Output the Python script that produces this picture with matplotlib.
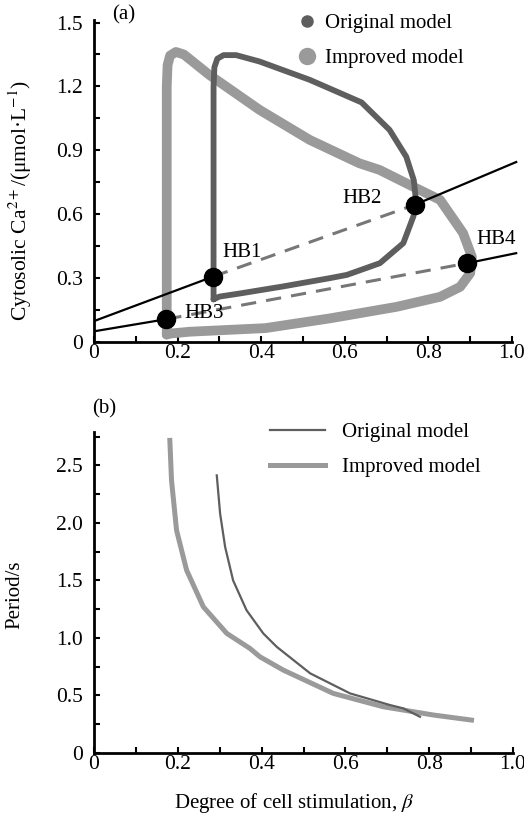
import matplotlib
matplotlib.use("Agg")
import matplotlib.pyplot as plt
from matplotlib.lines import Line2D
from matplotlib.ticker import MultipleLocator, FixedLocator, FixedFormatter

plt.rcParams['font.family'] = ['Liberation Serif', 'DejaVu Serif']
plt.rcParams['mathtext.fontset'] = 'stix'

# (a) limit cycles
orig_loop_x = [0.286, 0.286, 0.286, 0.288, 0.295, 0.31, 0.34, 0.396, 0.516, 0.64, 0.707, 0.747,
               0.765, 0.771, 0.764, 0.74, 0.684, 0.605, 0.565, 0.45, 0.35, 0.30, 0.286]
orig_loop_y = [0.20, 0.7, 1.2, 1.29, 1.33, 1.347, 1.347, 1.317, 1.231, 1.125, 0.996, 0.87,
               0.76, 0.65, 0.589, 0.464, 0.37, 0.315, 0.30, 0.26, 0.228, 0.213, 0.20]
impr_loop_x = [0.174, 0.174, 0.174, 0.176, 0.182, 0.196, 0.215, 0.276, 0.396, 0.516, 0.635, 0.683,
               0.779, 0.828, 0.883, 0.904, 0.9, 0.876, 0.828, 0.724, 0.565, 0.41, 0.228, 0.185, 0.174]
impr_loop_y = [0.035, 0.6, 1.2, 1.3, 1.345, 1.362, 1.35, 1.254, 1.09, 0.949, 0.839, 0.808,
               0.714, 0.667, 0.511, 0.40, 0.323, 0.259, 0.212, 0.165, 0.111, 0.065, 0.048, 0.04, 0.035]

# steady-state branches and Hopf points
hb_names = ['HB1', 'HB2', 'HB3', 'HB4']
hb_x = [0.285, 0.767, 0.173, 0.893]
hb_y = [0.307, 0.644, 0.107, 0.37]
branch1_start = (0.0, 0.098)
branch1_end = (1.01, 0.845)
branch2_start = (0.0, 0.05)
branch2_end = (1.01, 0.417)

# (b) period curves
per_orig_x = [0.293, 0.301, 0.313, 0.332, 0.364, 0.404, 0.436, 0.516, 0.611, 0.706, 0.738, 0.778]
per_orig_y = [2.413, 2.08, 1.79, 1.50, 1.241, 1.039, 0.923, 0.692, 0.518, 0.417, 0.388, 0.315]
per_impr_x = [0.181, 0.185, 0.197, 0.221, 0.261, 0.317, 0.372, 0.396, 0.452, 0.571, 0.69, 0.81, 0.901]
per_impr_y = [2.717, 2.37, 1.936, 1.589, 1.27, 1.039, 0.909, 0.836, 0.72, 0.518, 0.402, 0.33, 0.286]

dark = '#5e5e5e'
light = '#9a9a9a'
fs = 15
tfs = 15.5

fig = plt.figure(figsize=(5.24, 8.26), dpi=100)
axa = fig.add_axes([0.1794, 0.5860, 0.7977, 0.3898])
axb = fig.add_axes([0.1794, 0.0884, 0.7996, 0.3886])


def style(ax, ymax, ystep, yminor, ylabels):
    ax.set_xlim(0, 1.0)
    ax.set_ylim(0, ymax)
    for s in ['top', 'right']:
        ax.spines[s].set_visible(False)
    for s in ['left', 'bottom']:
        ax.spines[s].set_linewidth(2)
    ax.xaxis.set_major_locator(FixedLocator([0, 0.2, 0.4, 0.6, 0.8, 1.0]))
    ax.xaxis.set_major_formatter(FixedFormatter(['0', '0.2', '0.4', '0.6', '0.8', '1.0']))
    ax.xaxis.set_minor_locator(MultipleLocator(0.1))
    yt = [i * ystep for i in range(len(ylabels))]
    ax.yaxis.set_major_locator(FixedLocator(yt))
    ax.yaxis.set_major_formatter(FixedFormatter(ylabels))
    ax.yaxis.set_minor_locator(MultipleLocator(yminor))
    ax.tick_params(which='both', direction='in', length=4, width=1.5, labelsize=tfs)
    ax.tick_params(axis='x', which='both', pad=1.5)
    ax.tick_params(axis='y', which='both', pad=8)


# ---- panel (a)
style(axa, 1.512, 0.3, 0.15, ['0', '0.3', '0.6', '0.9', '1.2', '1.5'])
axa.plot(impr_loop_x, impr_loop_y, color=light, lw=7, solid_joinstyle='round',
         solid_capstyle='round', zorder=2)
axa.plot(orig_loop_x, orig_loop_y, color=dark, lw=4.2, solid_joinstyle='round',
         solid_capstyle='round', zorder=3)

axa.plot([branch1_start[0], hb_x[0]], [branch1_start[1], hb_y[0]], color='black', lw=1.6, zorder=4)
axa.plot([hb_x[1], branch1_end[0]], [hb_y[1], branch1_end[1]], color='black', lw=1.6,
         zorder=4, clip_on=False)
axa.plot([branch2_start[0], hb_x[2]], [branch2_start[1], hb_y[2]], color='black', lw=1.6, zorder=4)
axa.plot([hb_x[3], branch2_end[0]], [hb_y[3], branch2_end[1]], color='black', lw=1.6,
         zorder=4, clip_on=False)
axa.plot([hb_x[0], hb_x[1]], [hb_y[0], hb_y[1]], color='#777777', lw=2.2,
         dashes=(5, 3.3), zorder=4)
axa.plot([hb_x[2], hb_x[3]], [hb_y[2], hb_y[3]], color='#777777', lw=2.2,
         dashes=(5, 3.3), zorder=4)
axa.plot(hb_x, hb_y, 'o', color='black', ms=13, zorder=6, clip_on=False)

hb_text_pos = [(0.307, 0.42), (0.595, 0.676), (0.216, 0.135), (0.915, 0.479)]
for name, (tx, ty) in zip(hb_names, hb_text_pos):
    axa.text(tx, ty, name, fontsize=fs, va='center', ha='left', zorder=5)

fig.text(20 / 524, 1 - 200 / 826, 'Cytosolic Ca$^{2+}$/(μmol·L$^{-1}$)', fontsize=15.5,
         rotation=90, ha='center', va='center')

leg_a = [Line2D([], [], ls='none', marker='o', ms=8, color=dark, label='Original model'),
         Line2D([], [], ls='none', marker='o', ms=11.5, color=light, label='Improved model')]
axa.legend(handles=leg_a, loc='upper left', bbox_to_anchor=(0.485, 1.02), frameon=False,
           fontsize=fs, handlelength=1.0, handletextpad=0.37, labelspacing=0.75,
           borderpad=0, borderaxespad=0)
fig.text(112 / 524, 1 - 15 / 826, '(a)', fontsize=fs, va='center', ha='left')

# ---- panel (b)
style(axb, 2.79, 0.5, 0.25, ['0', '0.5', '1.0', '1.5', '2.0', '2.5'])
axb.plot(per_impr_x, per_impr_y, color=light, lw=3.6, label='Improved model', zorder=2)
axb.plot(per_orig_x, per_orig_y, color=dark, lw=1.6, label='Original model', zorder=3)
hb_, lb_ = axb.get_legend_handles_labels()
axb.legend(hb_[::-1], lb_[::-1], loc='upper left', bbox_to_anchor=(0.42, 1.03), frameon=False,
           fontsize=fs, handlelength=2.64, handletextpad=0.8, labelspacing=0.75,
           borderpad=0, borderaxespad=0)
fig.text(15 / 524, 1 - 595 / 826, 'Period/s', fontsize=fs, rotation=90, ha='center', va='center')
fig.text(294 / 524, 1 - 803 / 826, r'Degree of cell stimulation, $\beta$', fontsize=fs,
         ha='center', va='center')
fig.text(92 / 524, 1 - 409 / 826, '(b)', fontsize=fs, va='center', ha='left')

fig.savefig('out.png', dpi=100)
